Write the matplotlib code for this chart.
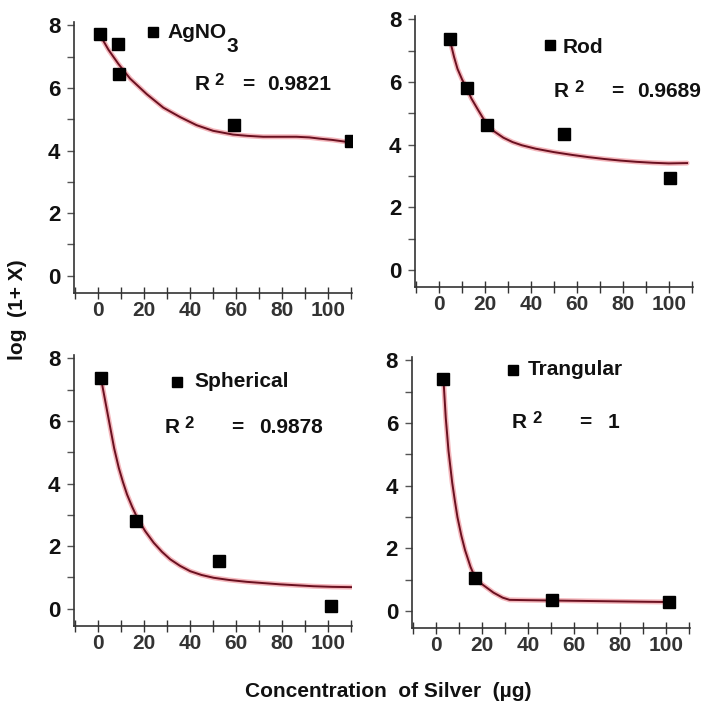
import matplotlib
matplotlib.use("Agg")
import matplotlib.pyplot as plt
from matplotlib.ticker import MultipleLocator

plt.rcParams["font.family"] = ["Liberation Sans", "DejaVu Sans"]
plt.rcParams["font.weight"] = "bold"

# measured points, log(1+X) vs silver dose (ug)
agno3_x = [0.9, 8.5, 9.3, 59.3, 110]
agno3_y = [7.73, 7.39, 6.45, 4.81, 4.31]
rod_x = [4.8, 12.0, 21.0, 54.3, 100.7]
rod_y = [7.38, 5.80, 4.63, 4.35, 2.93]
sph_x = [1.3, 16.7, 52.5, 101.3]
sph_y = [7.38, 2.80, 1.52, 0.09]
tri_x = [3.2, 17.0, 50.7, 101.4]
tri_y = [7.39, 1.06, 0.33, 0.28]

# trend lines as drawn on the original sheet
agno3_fit_x = [0.9, 4.5, 8.8, 13.9, 21.2, 28.4, 35.7, 42.9, 50.1, 58.8, 65, 71.9, 79, 86.4, 92, 96.5, 102, 108, 110]
agno3_fit_y = [7.68, 7.22, 6.77, 6.30, 5.80, 5.37, 5.07, 4.81, 4.63, 4.51, 4.47, 4.44, 4.44, 4.44, 4.42, 4.38, 4.34, 4.28, 4.25]
rod_fit_x = [5.1, 6.5, 8, 10, 12, 14, 16.7, 19, 21, 24, 28, 32, 36, 42, 50, 58, 65, 72, 79, 86, 93, 100, 108]
rod_fit_y = [7.22, 6.80, 6.42, 6.08, 5.80, 5.48, 5.14, 4.86, 4.63, 4.42, 4.22, 4.08, 3.98, 3.87, 3.76, 3.67, 3.60, 3.54, 3.49, 3.45, 3.42, 3.40, 3.41]
sph_fit_x = [1.6, 3.5, 5.3, 7, 9, 10.8, 12.6, 14.8, 17, 20.5, 24.2, 27.8, 31.4, 35.7, 40.1, 45, 50.3, 57, 64.8, 72, 79.3, 86.5, 93.7, 102, 111]
sph_fit_y = [7.22, 6.48, 5.78, 5.12, 4.50, 4.05, 3.65, 3.26, 2.91, 2.48, 2.11, 1.82, 1.58, 1.37, 1.20, 1.08, 0.99, 0.92, 0.86, 0.82, 0.78, 0.75, 0.72, 0.70, 0.69]
tri_fit_x = [3.2, 4.2, 5.4, 7, 8.2, 9.3, 11, 12.6, 15, 17, 20, 25, 29, 32, 40, 50, 70, 90, 102]
tri_fit_y = [7.39, 6.17, 5.11, 4.10, 3.50, 2.99, 2.40, 1.94, 1.40, 1.06, 0.85, 0.58, 0.42, 0.35, 0.34, 0.33, 0.31, 0.29, 0.28]

names = ["AgNO", "Rod", "Spherical", "Trangular"]
name_subscripts = ["3", "", "", ""]
r2_values = ["0.9821", "0.9689", "0.9878", "1"]

panels = [
    # rect, data, fit, key marker, key text, R left/base, "=" centre, value left
    dict(rect=[0.105, 0.5856, 0.394, 0.383], x=agno3_x, y=agno3_y,
         fx=agno3_fit_x, fy=agno3_fit_y, sub=(0.550, 0.889),
         mk=(0.284, 0.963), lab=(0.338, 0.941), r2=(0.435, 0.749), eq=0.626, val=0.694),
    dict(rect=[0.5887, 0.594, 0.394, 0.383], x=rod_x, y=rod_y,
         fx=rod_fit_x, fy=rod_fit_y, sub=None,
         mk=(0.486, 0.893), lab=(0.532, 0.863), r2=(0.500, 0.701), eq=0.727, val=0.799),
    dict(rect=[0.105, 0.1146, 0.394, 0.383], x=sph_x, y=sph_y,
         fx=sph_fit_x, fy=sph_fit_y, sub=None,
         mk=(0.371, 0.900), lab=(0.435, 0.882), r2=(0.327, 0.712), eq=0.586, val=0.665),
    dict(rect=[0.5844, 0.1117, 0.394, 0.383], x=tri_x, y=tri_y,
         fx=tri_fit_x, fy=tri_fit_y, sub=None,
         mk=(0.363, 0.952), lab=(0.417, 0.934), r2=(0.360, 0.738), eq=0.622, val=0.705),
]

TXT = dict(fontsize=15, fontweight="bold", va="baseline", color="#111111")

fig = plt.figure(figsize=(7.05, 7.07), dpi=100)

for p, name, sub, r2 in zip(panels, names, name_subscripts, r2_values):
    ax = fig.add_axes(p["rect"])
    ax.plot(p["fx"], p["fy"], color="#e8606c", lw=3.6, alpha=0.45,
            solid_capstyle="round", zorder=2)
    ax.plot(p["fx"], p["fy"], color="#6a1020", lw=1.4, zorder=3)
    ax.plot(p["x"], p["y"], "s", color="black", ms=8, zorder=4)

    ax.set_xlim(-10.5, 110.5)
    ax.set_ylim(-0.55, 8.1)
    for side in ("top", "right"):
        ax.spines[side].set_visible(False)
    for side in ("left", "bottom"):
        ax.spines[side].set_color("#333333")
        ax.spines[side].set_linewidth(1.2)

    ax.set_xticks([0, 20, 40, 60, 80, 100])
    ax.xaxis.set_minor_locator(MultipleLocator(10))
    ax.set_yticks([0, 2, 4, 6, 8])
    ax.yaxis.set_minor_locator(MultipleLocator(1))
    ax.tick_params(axis="x", which="both", direction="inout", length=8,
                   width=1, color="#333333", pad=2, labelsize=15,
                   labelcolor="#333333")
    ax.tick_params(axis="y", which="both", direction="out", length=5,
                   width=1, color="#555555", pad=5, labelsize=16,
                   labelcolor="#111111")
    for lbl in ax.get_xticklabels() + ax.get_yticklabels():
        lbl.set_fontweight("bold")

    # series key and R squared note
    ax.plot([p["mk"][0]], [p["mk"][1]], "s", color="black", ms=7,
            transform=ax.transAxes, clip_on=False)
    ax.text(p["lab"][0], p["lab"][1], name, transform=ax.transAxes, **TXT)
    if sub:
        ax.text(p["sub"][0], p["sub"][1], sub, transform=ax.transAxes, **TXT)
    rx, ry = p["r2"]
    ax.text(rx, ry, "R", transform=ax.transAxes, **TXT)
    ax.text(rx + 0.072, ry + 0.018, "2", transform=ax.transAxes,
            fontsize=12, fontweight="bold", va="baseline", color="#111111")
    ax.text(p["eq"], ry, "=", transform=ax.transAxes, ha="center", **TXT)
    ax.text(p["val"], ry, r2, transform=ax.transAxes, **TXT)

fig.text(0.0255, 0.5615, "log  (1+ X)", rotation=90, ha="center", va="center",
         fontsize=15, fontweight="bold", color="#111111")
fig.text(0.550, 0.0226, "Concentration  of Silver  (\u00b5g)", ha="center",
         va="center", fontsize=15, fontweight="bold", color="#111111")

fig.savefig("out.png", dpi=100)
